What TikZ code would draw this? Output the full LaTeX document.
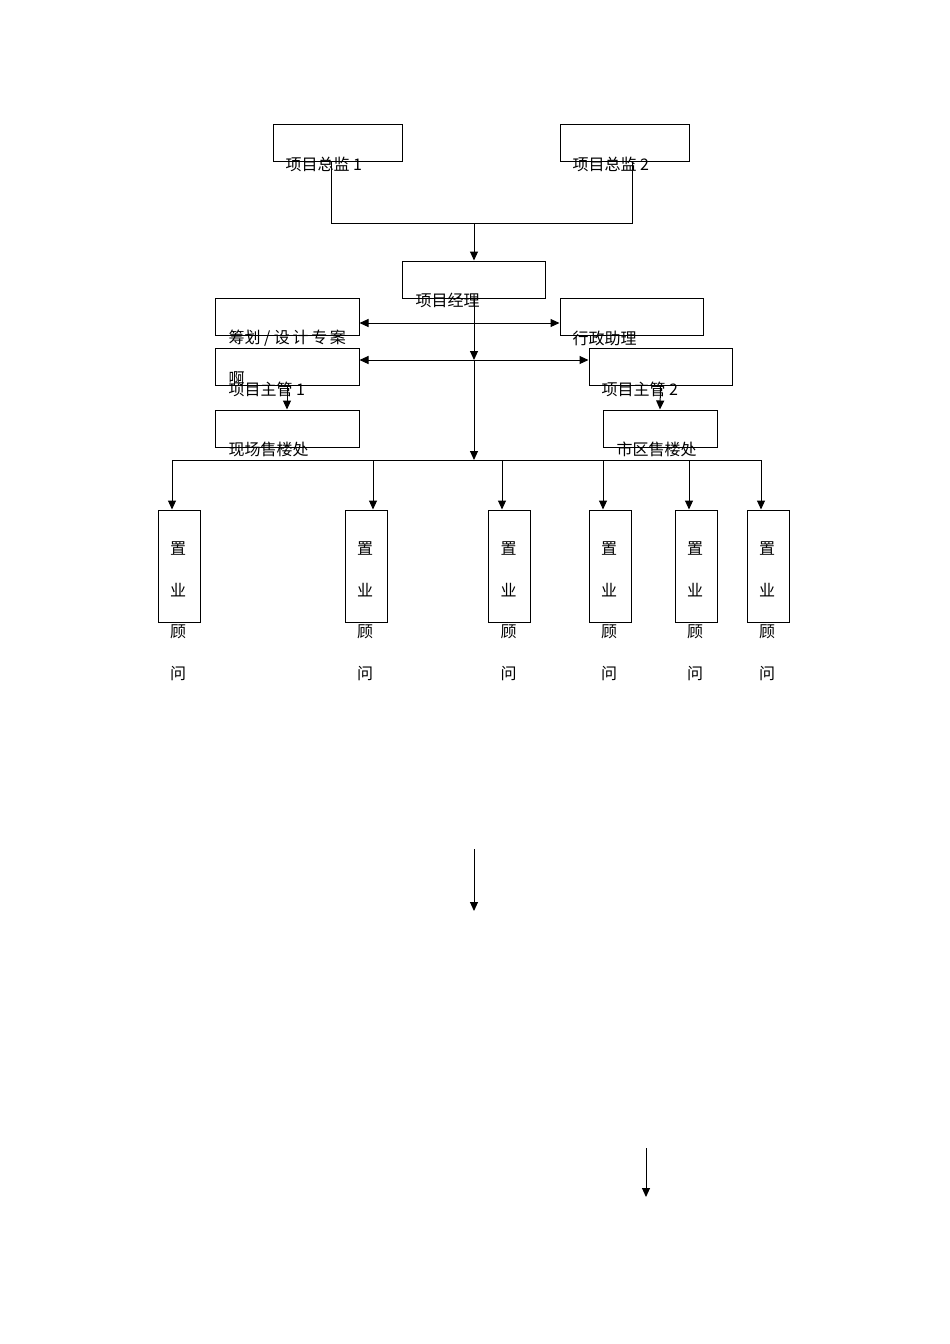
\documentclass[tikz,border=0pt]{standalone}
\usepackage{fontspec}
\newfontfamily\cjk{Noto Sans CJK SC}
\usetikzlibrary{arrows.meta}

\begin{document}
\begin{tikzpicture}[x=1pt,y=-1pt,line width=1pt,
  box/.style={draw,minimum width=#1,minimum height=37pt,inner sep=0pt},
  gwbox/.style={draw,minimum width=42pt,minimum height=112pt,inner sep=0pt},
  lbl/.style={anchor=west,inner sep=0pt,font=\cjk\fontsize{16}{18}\selectfont},
  vlbl/.style={inner sep=0pt,align=center,font=\cjk\fontsize{16}{41.5}\selectfont},
  arr/.style={-{Triangle[length=9pt,width=8pt]}},
  dbl/.style={{Triangle[length=9pt,width=8pt]}-{Triangle[length=9pt,width=8pt]}}]
\useasboundingbox (0,0) rectangle (950,1344);

% top: directors and manager
\node[box=129pt] (zj1) at (337.5,142.5) {};
\node[box=129pt] (zj2) at (624.5,142.5) {};
\node[box=143pt] (jl) at (474,279.5) {};
\node[lbl] (tzj1) at (285,164) {项目总监 1};
\node[lbl] (tzj2) at (572,164) {项目总监 2};
\node[lbl] (tjl) at (415,300) {项目经理};
\coordinate (join) at (474,223);
\draw ([xshift=-6.5pt]zj1.south) |- (join);
\draw ([xshift=7.5pt]zj2.south) |- (join);
\draw[arr] (join) -- (jl.north);

% middle: staff, supervisors, sales offices
\node[box=144pt] (ch) at (287,317) {};
\node[box=143pt] (xz) at (631.5,317) {};
\node[box=144pt] (zg1) at (287,366.5) {};
\node[box=143pt] (zg2) at (660.5,366.5) {};
\node[box=144pt] (xc1) at (287,428.5) {};
\node[box=114pt] (xc2) at (660,428.5) {};
\node[lbl] (tch) at (228,338) {筹划 / 设\,计\,专\,案};
\node[lbl] (txz) at (572,338) {行政助理};
\node[lbl] (ta) at (228,379) {啊};
\node[lbl] (tzg1) at (228,389) {项目主管 1};
\node[lbl] (tzg2) at (601,389) {项目主管 2};
\node[lbl] (txc1) at (228,449) {现场售楼处};
\node[lbl] (txc2) at (616,449) {市区售楼处};
\coordinate (mid1) at (474,323);
\coordinate (mid2) at (474,360);
\coordinate (bus) at (474,460);
\draw[dbl] (ch.east |- mid1) -- (xz.west |- mid1);
\draw[dbl] (zg1.east |- mid2) -- (zg2.west |- mid2);
\draw[arr] (jl.south) -- (mid2);
\draw[arr] (mid2) -- (bus);
\draw[arr] (zg1.south) -- (xc1.north);
\draw[arr] (zg2.south) -- (xc2.north);

% bottom: sales advisors
\foreach \i/\x/\d in {1/179/172,2/366/373,3/509.5/502,4/610/603,5/696/689,6/768/761}
{
  \node[gwbox] (gw\i) at (\x,566) {};
  \node[vlbl] (tgw\i) at (\x-1,611) {置\\业\\顾\\问};
  \coordinate (d\i) at (\d,460);
  \draw[arr] (d\i) -- (d\i |- gw\i.north);
}
\draw (d1) -- (d6);

% loose arrows
\coordinate (a1) at (474,849);
\coordinate (a2) at (474,911);
\draw[arr] (a1) -- (a2);
\coordinate (b1) at (646,1148);
\coordinate (b2) at (646,1197);
\draw[arr] (b1) -- (b2);
\end{tikzpicture}
\end{document}
